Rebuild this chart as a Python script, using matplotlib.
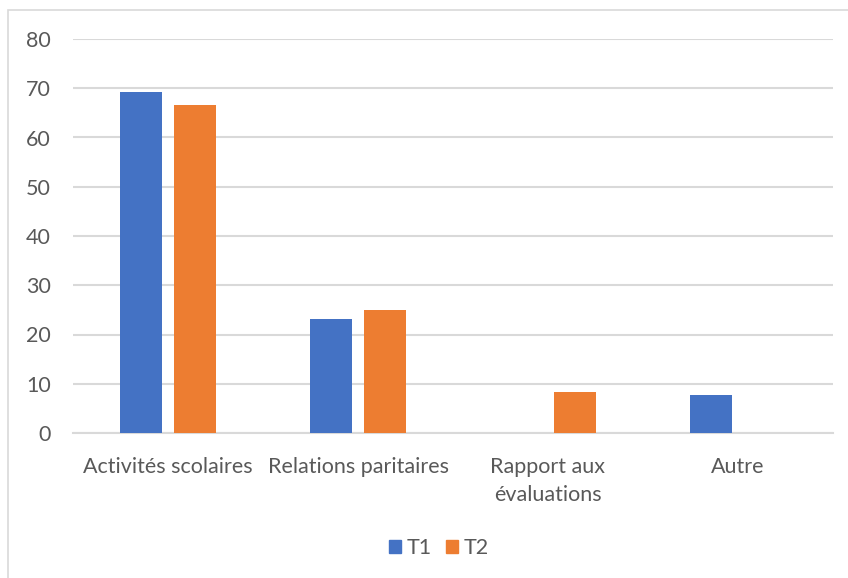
import matplotlib
matplotlib.use("Agg")
import matplotlib.pyplot as plt
import numpy as np
from matplotlib.patches import Rectangle, Patch

categories = ["Activités scolaires", "Relations paritaires", "Rapport aux\névaluations", "Autre"]
t1 = [69.2, 23.1, 0, 7.7]
t2 = [66.7, 25.0, 8.3, 0]
yticks = [0, 10, 20, 30, 40, 50, 60, 70, 80]

plt.rcParams['font.family'] = ['Lato', 'DejaVu Sans']

W, H = 848, 578
fig = plt.figure(figsize=(W/100, H/100), dpi=100)
fig.patch.set_facecolor("white")

# outer chart border
fig.add_artist(Rectangle((8/W, -0.1), 1.2, 1 - 10/H + 0.1, transform=fig.transFigure,
                         fill=False, edgecolor="#D9D9D9", linewidth=1.2))

ax = fig.add_axes([73/W, 1 - 433/H, (833-73)/W, (433-39)/H])
x = np.arange(len(categories))
bw = 0.221
off = 0.142
ax.bar(x - off, t1, bw, color="#4472C4", label="T1", zorder=3)
ax.bar(x + off, t2, bw, color="#ED7D31", label="T2", zorder=3)

ax.set_xlim(-0.5, len(categories) - 0.5)
ax.set_ylim(0, 80)
ax.set_yticks(yticks)
ax.yaxis.grid(True, color="#D9D9D9", linewidth=1.5, zorder=0)
ax.set_axisbelow(True)
for s in ["top", "right", "left"]:
    ax.spines[s].set_visible(False)
ax.spines["bottom"].set_color("#D9D9D9")
ax.spines["bottom"].set_linewidth(1.5)
ax.tick_params(axis="both", length=0, colors="#595959", labelsize=15.5)
ax.tick_params(axis="y", pad=16)
ax.tick_params(axis="x", pad=17)
ax.set_xticks(x)
ax.set_xticklabels(categories, linespacing=1.5)

handles = [Patch(color="#4472C4", label="T1"), Patch(color="#ED7D31", label="T2")]
leg = fig.legend(handles=handles, loc="center", bbox_to_anchor=(439/W, 1 - 548/H), ncol=2,
                 frameon=False, fontsize=15.5, handlelength=0.58, handleheight=0.58,
                 handletextpad=0.25, columnspacing=0.65, labelcolor="#595959")

fig.savefig("out.png", dpi=100, facecolor="white")
